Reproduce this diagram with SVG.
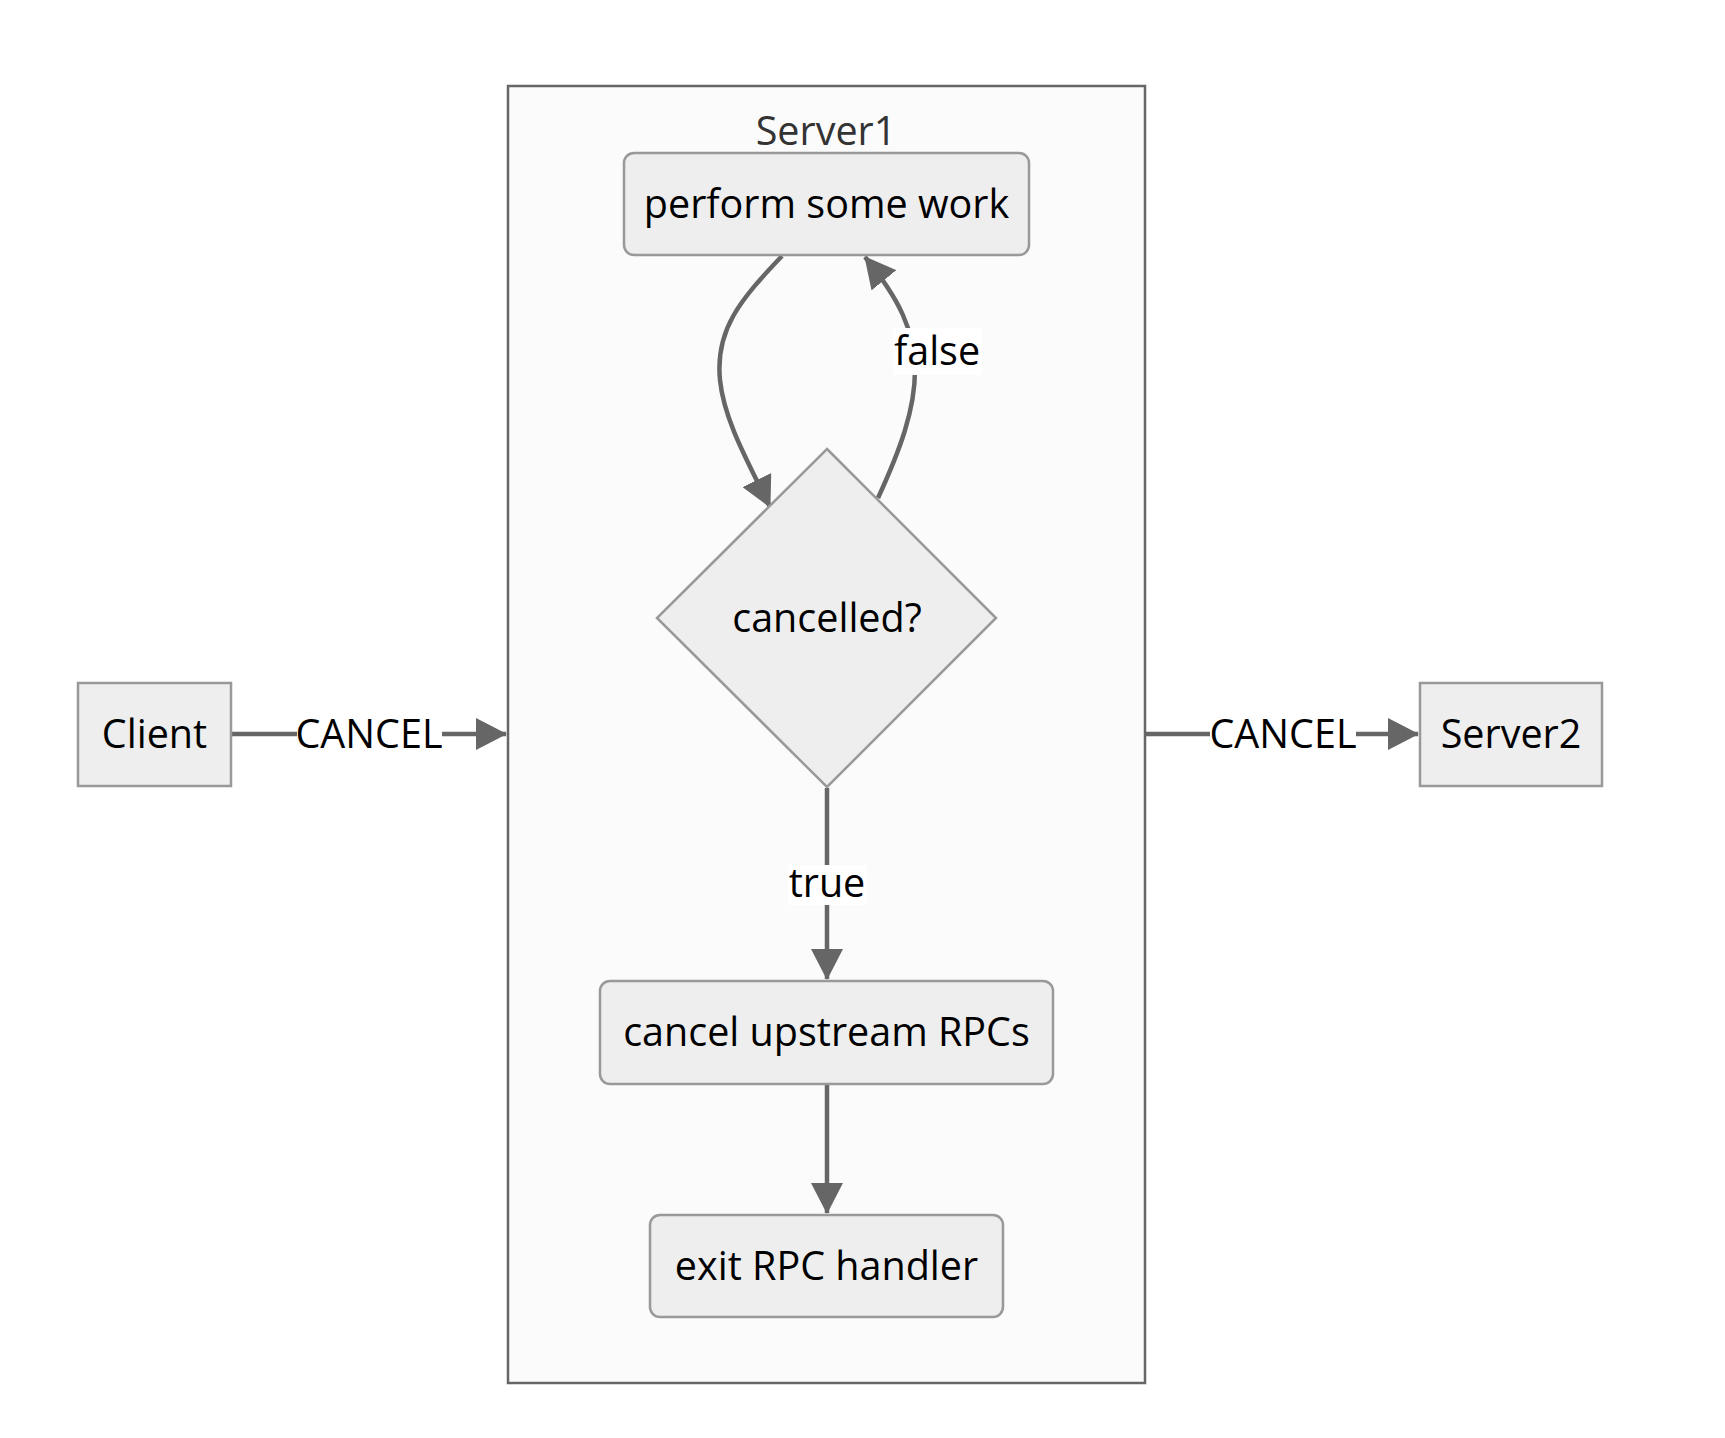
<svg xmlns="http://www.w3.org/2000/svg" width="1725" height="1438" viewBox="0 0 1725 1438">
<defs>
<style>
.node rect,.node polygon{fill:#eeeeee;stroke:#999999;stroke-width:2.5}
.cluster rect{fill:#fbfbfb;stroke:#666666;stroke-width:2.5}
.edge{fill:none;stroke:#666666;stroke-width:4.5}
text{font-family:"Trebuchet MS","Open Sans","DejaVu Sans",sans-serif;font-size:39.5px;fill:#000;text-anchor:middle}
.clabel{fill:#333333}
.lbg{fill:#ffffff}
</style>
<marker id="arr" markerUnits="userSpaceOnUse" markerWidth="31" markerHeight="32" refX="30" refY="16" orient="auto">
<path d="M0,0 L31,16 L0,32 z" fill="#666666"/>
</marker>
</defs>
<rect width="1725" height="1438" fill="#ffffff"/>
<g id="Server1" class="cluster">
<rect x="508" y="86" width="637" height="1297"/>
<text class="clabel" x="826" y="145">Server1</text>
</g>
<g id="connectors">
<path class="edge" d="M231,734 L506,734" marker-end="url(#arr)"/>
<path class="edge" d="M1145,734 L1418,734" marker-end="url(#arr)"/>
<path class="edge" d="M782,256 C740,300 715,330 720,380 C724,420 748,462 770,507" marker-end="url(#arr)"/>
<path class="edge" d="M878,498 C900,450 915,410 915,370 C914,330 900,300 865,257" marker-end="url(#arr)"/>
<path class="edge" d="M827,788 L827,979" marker-end="url(#arr)"/>
<path class="edge" d="M827,1085 L827,1213" marker-end="url(#arr)"/>
<rect class="lbg" x="297" y="712" width="145" height="44"/>
<text x="369" y="748">CANCEL</text>
<rect class="lbg" x="1210" y="712" width="146" height="44"/>
<text x="1283" y="748">CANCEL</text>
<rect class="lbg" x="893" y="328" width="89" height="47"/>
<text x="937" y="365">false</text>
<rect class="lbg" x="788" y="865" width="79" height="40"/>
<text x="827" y="897">true</text>
</g>
<g id="Client" class="node">
<rect x="78" y="683" width="153" height="103"/>
<text x="154.5" y="748">Client</text>
</g>
<g id="Server2" class="node">
<rect x="1420" y="683" width="182" height="103"/>
<text x="1511" y="748">Server2</text>
</g>
<g id="work" class="node">
<rect x="624" y="153" width="405" height="102" rx="10" ry="10"/>
<text x="826.5" y="218">perform some work</text>
</g>
<g id="cancelled" class="node">
<polygon points="827,449 996,618 827,787 657,618"/>
<text x="827" y="632">cancelled?</text>
</g>
<g id="upstream" class="node">
<rect x="600" y="981" width="453" height="103" rx="10" ry="10"/>
<text x="826.5" y="1046">cancel upstream RPCs</text>
</g>
<g id="exit" class="node">
<rect x="650" y="1215" width="353" height="102" rx="10" ry="10"/>
<text x="826.5" y="1280">exit RPC handler</text>
</g>
</svg>
